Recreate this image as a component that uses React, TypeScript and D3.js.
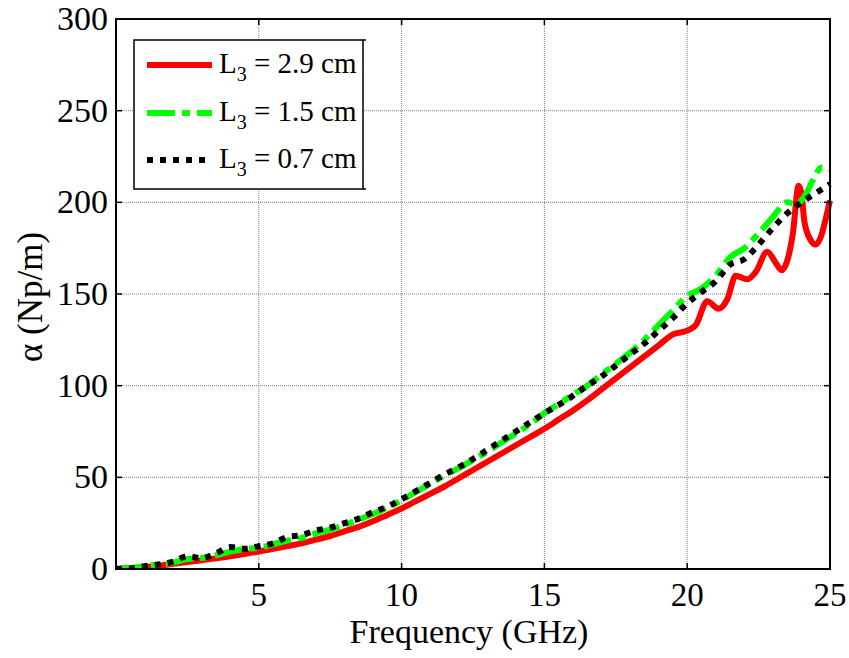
import React from "react";
import * as d3 from "d3";

const freqRed = [0, 0.5, 1, 1.5, 2, 2.5, 3, 3.5, 4, 4.5, 5, 5.5, 6, 6.5, 7, 7.5, 8, 8.5, 9, 9.5, 10, 10.5, 11, 11.5, 12, 12.5, 13, 13.5, 14, 14.5, 15, 15.5, 16, 16.5, 17, 17.5, 18, 18.5, 19, 19.5, 20, 20.3, 20.7, 21.1, 21.4, 21.7, 22.1, 22.4, 22.8, 23.1, 23.3, 23.5, 23.7, 23.9, 24.0, 24.1, 24.3, 24.5, 24.7, 24.85, 25];
const alphaRed = [0, 0.5, 1, 1.8, 2.8, 3.8, 4.8, 5.8, 7, 8.2, 9.5, 11, 12.5, 14, 16, 18, 20.5, 23, 26, 29.5, 33, 37, 41, 45, 49.5, 54, 58.5, 63, 67.5, 72, 76.5, 81.5, 86.5, 92, 98, 104, 110, 116, 122, 128, 130, 133, 146, 142, 147, 160, 158, 162, 173, 167, 163, 168, 183, 209, 205, 190, 180, 177, 182, 191, 201];

const freqGreen = [0, 0.5, 1, 1.5, 2, 2.5, 3, 3.5, 4, 4.5, 5, 5.5, 6, 6.5, 7, 7.5, 8, 8.5, 9, 9.5, 10, 10.5, 11, 11.5, 12, 12.5, 13, 13.5, 14, 14.5, 15, 15.5, 16, 16.5, 17, 17.5, 18, 18.5, 19, 19.5, 20, 20.5, 21, 21.5, 22, 22.5, 23, 23.5, 23.8, 24.1, 24.4, 24.7, 25];
const alphaGreen = [0, 0.5, 1.5, 2.5, 3.5, 5.5, 6, 7.5, 9.5, 11, 11.5, 13.5, 15.5, 17, 19.5, 21.5, 24, 27, 30, 33.5, 37.5, 42, 46.5, 51, 55, 59.5, 64, 69, 74, 79, 85, 90, 95, 100, 106, 112, 118, 125, 133, 141, 149, 153, 160, 170, 175, 183, 192, 200, 199, 203, 212, 219, 218];

const freqBlack = [0, 0.5, 1, 1.5, 2, 2.5, 3, 3.5, 4, 4.5, 5, 5.5, 6, 6.5, 7, 7.5, 8, 8.5, 9, 9.5, 10, 10.5, 11, 11.5, 12, 12.5, 13, 13.5, 14, 14.5, 15, 15.5, 16, 16.5, 17, 17.5, 18, 18.5, 19, 19.5, 20, 20.5, 21, 21.5, 22, 22.5, 23, 23.5, 24, 24.5, 25];
const alphaBlack = [0, 0.3, 1.5, 2.5, 4, 7, 6, 8.5, 12, 11, 12.5, 14, 17.5, 18.5, 21, 22.5, 25, 27.5, 31, 34, 38, 42.5, 47, 51.5, 55.5, 60, 65, 70, 75, 80, 85, 89.5, 94.5, 100, 105, 111, 117, 123, 130, 137, 145, 151, 157, 166, 169, 177, 186, 194, 200, 205, 210];

const xTicks = [5, 10, 15, 20, 25];
const yTicks = [0, 50, 100, 150, 200, 250, 300];
const legendSubs = ["2.9", "1.5", "0.7"];

const W = 849, H = 658;
const left = 116, right = 830, top = 19, bottom = 569;
const font = "'Liberation Serif', 'Times New Roman', serif";

export default function App() {
  const x = d3.scaleLinear().domain([0, 25]).range([left, right]);
  const y = d3.scaleLinear().domain([0, 300]).range([bottom, top]);
  const line = d3.line<number>().curve(d3.curveMonotoneX);
  const mk = (fs: number[], as: number[]) =>
    line(fs.map((f, i) => [x(f), y(as[i])] as any) as any) || "";

  const series = [
    { d: mk(freqRed, alphaRed), color: "#ff0000", dash: undefined as string | undefined },
    { d: mk(freqGreen, alphaGreen), color: "#00ff00", dash: "28,7,8,7" },
    { d: mk(freqBlack, alphaBlack), color: "#000000", dash: "6,7" },
  ];

  const lx0 = 134, ly0 = 40, lw = 229, lh = 149;
  const rowY = [65, 113, 160];

  return (
    <svg width={W} height={H} style={{ position: "absolute", left: 0, top: 0, background: "#fff" }}>
      <rect x={0} y={0} width={W} height={H} fill="#fff" />
      <defs>
        <clipPath id="plotclip">
          <rect x={left} y={top - 5} width={right - left + 4} height={bottom - top + 5} />
        </clipPath>
      </defs>
      {xTicks.map((t) => (
        <line key={"gx" + t} x1={x(t)} x2={x(t)} y1={top} y2={bottom} stroke="#808080" strokeWidth={1} strokeDasharray="1,1" />
      ))}
      {yTicks.map((t) => (
        <line key={"gy" + t} x1={left} x2={right} y1={y(t)} y2={y(t)} stroke="#808080" strokeWidth={1} strokeDasharray="1,1" />
      ))}
      <g clipPath="url(#plotclip)">
        {series.map((s, i) => (
          <path key={i} d={s.d} fill="none" stroke={s.color} strokeWidth={6} strokeDasharray={s.dash} strokeLinecap="butt" strokeLinejoin="round" />
        ))}
      </g>
      {xTicks.map((t) => (
        <g key={"tx" + t}>
          <line x1={x(t)} x2={x(t)} y1={bottom} y2={bottom - 6} stroke="#000" strokeWidth={1.5} />
          <line x1={x(t)} x2={x(t)} y1={top} y2={top + 6} stroke="#000" strokeWidth={1.5} />
          <text x={x(t)} y={606} fontSize={33} fontFamily={font} textAnchor="middle" fill="#000">{t}</text>
        </g>
      ))}
      {yTicks.map((t) => (
        <g key={"ty" + t}>
          <line x1={left} x2={left + 6} y1={y(t)} y2={y(t)} stroke="#000" strokeWidth={1.5} />
          <line x1={right} x2={right - 6} y1={y(t)} y2={y(t)} stroke="#000" strokeWidth={1.5} />
          <text x={108} y={y(t) + 11} fontSize={34} fontFamily={font} textAnchor="end" fill="#000">{t}</text>
        </g>
      ))}
      <rect x={left} y={top} width={right - left} height={bottom - top} fill="none" stroke="#000" strokeWidth={2} />
      <text x={469} y={643} fontSize={34} fontFamily={font} textAnchor="middle" fill="#000">Frequency (GHz)</text>
      <text transform={`translate(42,${297}) rotate(-90)`} fontSize={35} fontFamily={font} textAnchor="middle" fill="#000">α (Np/m)</text>
      <rect x={lx0} y={ly0} width={lw} height={lh} fill="#fff" stroke="#000" strokeWidth={1.5} />
      <line x1={lx0 + lw} x2={lx0 + lw + 3} y1={ly0} y2={ly0} stroke="#000" strokeWidth={1.5} />
      <line x1={lx0 + lw} x2={lx0 + lw + 3} y1={ly0 + lh} y2={ly0 + lh} stroke="#000" strokeWidth={1.5} />
      {series.map((s, i) => (
        <g key={"lg" + i}>
          <line x1={147} x2={212} y1={rowY[i]} y2={rowY[i]} stroke={s.color} strokeWidth={6} strokeDasharray={s.dash} />
          <text x={219} y={rowY[i] + 8} fontSize={29} fontFamily={font} fill="#000">
            L<tspan fontSize={20} dy={8}>3</tspan><tspan dy={-8}>{` = ${legendSubs[i]} cm`}</tspan>
          </text>
        </g>
      ))}
    </svg>
  );
}
